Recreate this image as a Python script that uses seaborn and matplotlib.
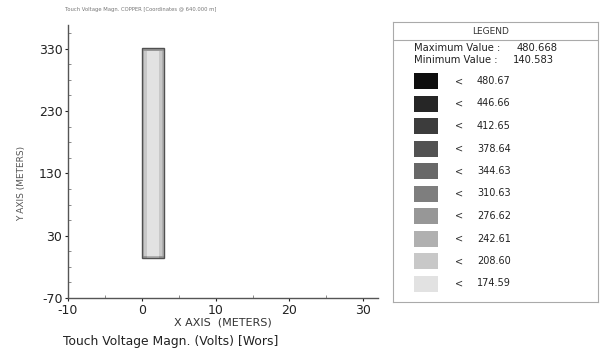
import numpy as np
import matplotlib
matplotlib.use('Agg')
import matplotlib.pyplot as plt
from matplotlib.colors import ListedColormap, BoundaryNorm
from matplotlib.patches import Rectangle
import seaborn as sns

# legend levels (volts), darkest first
level_values = [480.67, 446.66, 412.65, 378.64, 344.63, 310.63, 276.62, 242.61, 208.60, 174.59]
level_colors = ['#0e0e0e', '#262626', '#3c3c3c', '#525252', '#686868',
                '#7e7e7e', '#979797', '#b0b0b0', '#c8c8c8', '#e2e2e2']
max_value = 480.668
min_value = 140.583

# grid of the conductor strip (meters)
grid_x = [0.0, 0.3, 0.7, 1.5, 2.3, 2.7, 3.0]
grid_y = [-6.0, -2.0, 40.0, 120.0, 200.0, 290.0, 326.0, 331.0]
# touch voltage over the grid, rows bottom -> top
touch_v = [
    [250, 245, 240, 240, 245, 250],
    [225, 190, 165, 165, 185, 220],
    [220, 185, 160, 160, 180, 220],
    [220, 180, 155, 155, 180, 220],
    [220, 185, 160, 160, 180, 220],
    [225, 190, 165, 165, 185, 220],
    [260, 255, 250, 250, 255, 260],
]

x_ticks = [-10, 0, 10, 20, 30]
y_ticks = [-70, 30, 130, 230, 330]

sns.set_style('ticks')
plt.rcParams['font.family'] = ['DejaVu Sans']
plt.rcParams['axes.unicode_minus'] = False

fig = plt.figure(figsize=(6.02, 3.56), dpi=100)
W, H = 602, 356
ax = fig.add_axes([68 / W, 1 - 298 / H, (378 - 68) / W, (298 - 25) / H])

bounds = [min_value - 20] + level_values[::-1]
cmap = ListedColormap(level_colors[::-1])
norm = BoundaryNorm(bounds, cmap.N)
ax.pcolormesh(grid_x, grid_y, np.array(touch_v), cmap=cmap, norm=norm,
              shading='flat', antialiased=True)
ax.add_patch(Rectangle((grid_x[0], grid_y[0]), grid_x[-1] - grid_x[0],
                       grid_y[-1] - grid_y[0], fill=False, ec='#505050', lw=1.0))

ax.set_xlim(-10, 32)
ax.set_ylim(-70, 368)
ax.set_xticks(x_ticks)
ax.set_yticks(y_ticks)
ax.set_xticks(np.arange(-10, 32, 5), minor=True)
ax.set_yticks(np.arange(-70, 368, 25), minor=True)
ax.tick_params(labelsize=9, colors='#222222', length=2.5, width=0.8, direction='out', pad=1.5)
ax.tick_params(which='minor', length=2, width=0.6, direction='in', color='#777777')
sns.despine(ax=ax)
for s in ['left', 'bottom']:
    ax.spines[s].set_color('#555555')
    ax.spines[s].set_linewidth(1.0)
ax.set_ylabel('Y AXIS (METERS)', fontsize=6.5, color='#555555')
ax.yaxis.set_label_coords(-0.135, 0.42)
ax.set_xlabel('X AXIS  (METERS)', fontsize=8, color='#333333', labelpad=1)

fig.text(63 / W, 1 - 341 / H, 'Touch Voltage Magn. (Volts) [Wors]', fontsize=8.9,
         color='#222222', va='center', ha='left')
fig.text(65 / W, 1 - 10 / H, 'Touch Voltage Magn. COPPER [Coordinates @ 640.000 m]',
         fontsize=3.8, color='#777777', va='center', ha='left')

# legend panel
lg = fig.add_axes([393 / W, 1 - 302 / H, (598 - 393) / W, (302 - 22) / H])
lg.set_xlim(393, 598)
lg.set_ylim(302, 22)
lg.set_xticks([])
lg.set_yticks([])
for s in lg.spines.values():
    s.set_color('#aaaaaa')
    s.set_linewidth(0.8)
lg.axhline(40, color='#aaaaaa', lw=0.8)
lg.text(491, 31.5, 'LEGEND', fontsize=6.5, ha='center', va='center', color='#333333')
lg.text(414, 48, 'Maximum Value :', fontsize=7.2, va='center', color='#222222')
lg.text(517, 48, f'{max_value:.3f}', fontsize=7.2, va='center', color='#222222')
lg.text(414, 60, 'Minimum Value :', fontsize=7.2, va='center', color='#222222')
lg.text(513, 60, f'{min_value:.3f}', fontsize=7.2, va='center', color='#222222')

rows = 81 + 22.5 * np.arange(len(level_values))
lg.barh(rows, 24, left=414, height=16, color=level_colors, edgecolor='none')
for r, v in zip(rows, level_values):
    lg.text(455, r, '<', fontsize=7, va='center', color='#333333')
    lg.text(477, r, f'{v:.2f}', fontsize=7, va='center', color='#222222')

fig.savefig('out.png', dpi=100)
